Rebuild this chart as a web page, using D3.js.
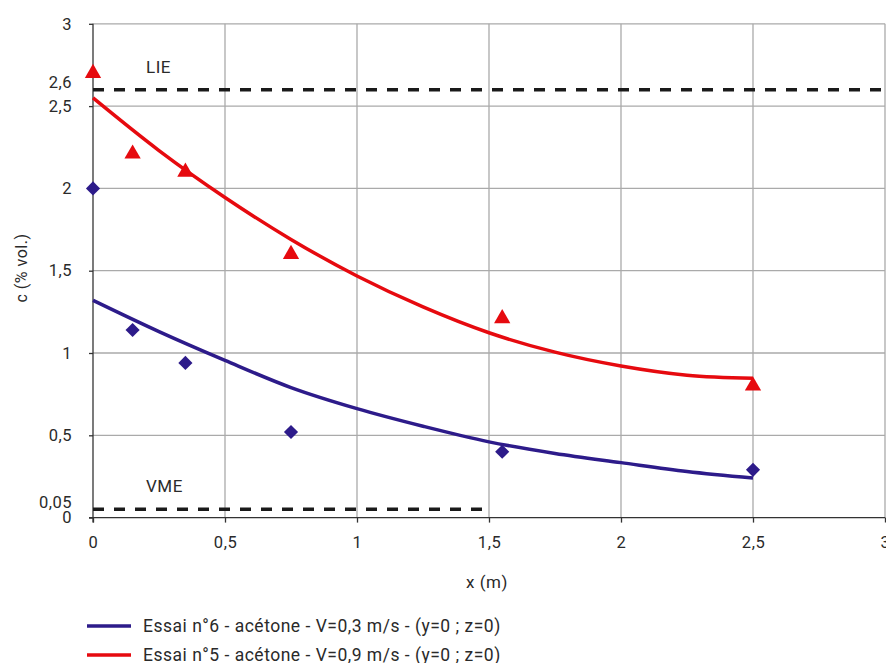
<!DOCTYPE html>
<html>
<head>
<meta charset="utf-8">
<script src="https://cdn.jsdelivr.net/npm/d3@7"></script>
<style>
  body { margin: 0; background: #fff; }
  text { font-family: Roboto, "Liberation Sans", sans-serif; fill: #2a2a2a; letter-spacing: 0.5px; }
  .grid line { stroke: #aaa; stroke-width: 1.3; }
  .axis path, .axis line { stroke: #333; stroke-width: 1.3; }
  .axis text { font-size: 16.5px; }
</style>
</head>
<body>
<svg></svg>
<script>
// measured points
const xPoints = [0, 0.15, 0.35, 0.75, 1.55, 2.5];
const essai6 = [2.0, 1.14, 0.94, 0.52, 0.40, 0.29];   // blue diamonds
const essai5 = [2.7, 2.21, 2.1, 1.6, 1.21, 0.80];     // red triangles

// trend curves
const trendX = [0, 0.25, 0.5, 0.75, 1, 1.25, 1.5, 1.75, 2, 2.25, 2.5];
const trend6 = [1.32, 1.13, 0.955, 0.79, 0.662, 0.555, 0.46, 0.39, 0.334, 0.28, 0.24];
const trend5 = [2.55, 2.23, 1.945, 1.69, 1.468, 1.28, 1.123, 1.005, 0.921, 0.865, 0.846];

const xTicks = [0, 0.5, 1, 1.5, 2, 2.5, 3];
const yTicks = [0, 0.5, 1, 1.5, 2, 2.5, 3];
const limits = [
  { name: "LIE", value: 2.6, x0: 0, x1: 3.1 },
  { name: "VME", value: 0.05, x0: 0, x1: 1.5 }
];
const legendLabels = [
  "Essai n°6 - acétone - V=0,3 m/s - (y=0 ; z=0)",
  "Essai n°5 - acétone - V=0,9 m/s - (y=0 ; z=0)"
];

const blue = "#2d1b8a", red = "#e60a0f";
const fmt = d => String(d).replace(".", ",");

const width = 886, height = 663;

const svg = d3.select("svg").attr("width", width).attr("height", height);

const x = d3.scaleLinear().domain([0, 3]).range([93, 885]);
const y = d3.scaleLinear().domain([0, 3]).range([517.6, 23.8]);

// grid
const grid = svg.append("g").attr("class", "grid");
grid.selectAll(".gx").data(xTicks.slice(1)).enter().append("line")
  .attr("x1", d => x(d)).attr("x2", d => x(d))
  .attr("y1", y(0)).attr("y2", y(3));
grid.selectAll(".gy").data(yTicks.slice(1)).enter().append("line")
  .attr("x1", x(0)).attr("x2", x(3))
  .attr("y1", d => y(d)).attr("y2", d => y(d));

// axes
svg.append("g").attr("class", "axis")
  .attr("transform", `translate(0,${y(0)})`)
  .call(d3.axisBottom(x).tickValues(xTicks).tickFormat(fmt).tickSizeInner(5).tickSizeOuter(0).tickPadding(14))
  .call(g => g.select(".domain").remove())
  .call(g => g.append("line").attr("x1", x(0) - 4).attr("x2", x(3)).attr("stroke", "#333").attr("stroke-width", 1.3));

svg.append("g").attr("class", "axis")
  .attr("transform", `translate(${x(0)},0)`)
  .call(d3.axisLeft(y).tickValues(yTicks).tickFormat(fmt).tickSizeInner(4).tickSizeOuter(0).tickPadding(17))
  .call(g => g.select(".domain").remove())
  .call(g => g.append("line").attr("y1", y(0) + 5).attr("y2", y(3)).attr("stroke", "#333").attr("stroke-width", 1.3));

// extra y labels for the limit values
svg.selectAll(".limlab").data(limits).enter().append("text")
  .attr("x", x(0) - 21).attr("y", d => y(d.value) - 7)
  .attr("dy", "0.32em").attr("text-anchor", "end")
  .style("font-size", "16.5px").text(d => fmt(d.value));

// dashed limits
svg.selectAll(".lim").data(limits).enter().append("line")
  .attr("x1", d => x(d.x0)).attr("x2", d => x(d.x1))
  .attr("y1", d => y(d.value)).attr("y2", d => y(d.value))
  .attr("stroke", "#1a1a1a").attr("stroke-width", 3.5)
  .attr("stroke-dasharray", "11,10");
svg.selectAll(".limname").data(limits).enter().append("text")
  .attr("x", 146).attr("y", d => y(d.value) - 17)
  .style("font-size", "17px").text(d => d.name);

// trend curves
const line = d3.line().x(d => x(d[0])).y(d => y(d[1])).curve(d3.curveMonotoneX);
svg.append("path").datum(trendX.map((d, i) => [d, trend6[i]]))
  .attr("fill", "none").attr("stroke", blue).attr("stroke-width", 3.5).attr("d", line);
svg.append("path").datum(trendX.map((d, i) => [d, trend5[i]]))
  .attr("fill", "none").attr("stroke", red).attr("stroke-width", 3.5).attr("d", line);

// markers
svg.selectAll(".dia").data(xPoints.map((d, i) => [d, essai6[i]])).enter().append("path")
  .attr("transform", d => `translate(${x(d[0])},${y(d[1])}) rotate(45)`)
  .attr("d", d3.symbol(d3.symbolSquare, 100))
  .attr("fill", blue);
svg.selectAll(".tri").data(xPoints.map((d, i) => [d, essai5[i]])).enter().append("path")
  .attr("transform", d => `translate(${x(d[0])},${y(d[1])})`)
  .attr("d", d3.symbol(d3.symbolTriangle, 115))
  .attr("fill", red);

// axis titles
svg.append("text").attr("x", 487).attr("y", 582).attr("dy", "0.35em")
  .attr("text-anchor", "middle").style("font-size", "17px").text("x (m)");
svg.append("text").attr("transform", "translate(21,268) rotate(-90)")
  .attr("dy", "0.35em").attr("text-anchor", "middle")
  .style("font-size", "16px").text("c (% vol.)");

// legend
const legend = svg.append("g").selectAll("g").data(legendLabels).enter().append("g")
  .attr("transform", (d, i) => `translate(87,${626 + i * 29})`);
legend.append("line").attr("x1", 0).attr("x2", 44)
  .attr("stroke", (d, i) => i === 0 ? blue : red).attr("stroke-width", 3.5);
legend.append("text").attr("x", 56).attr("dy", "0.35em")
  .style("font-size", "17.5px").text(d => d);
</script>
</body>
</html>
